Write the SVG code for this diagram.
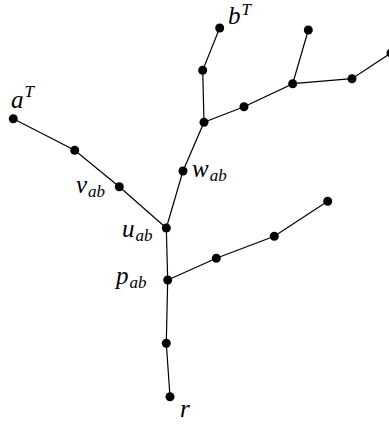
<svg xmlns="http://www.w3.org/2000/svg" width="389" height="426" viewBox="0 0 389 426">
<style>
.e{stroke:#000;stroke-width:1.2;fill:none}
.n{fill:#000}
.t{font-family:"Liberation Serif","DejaVu Serif",serif;font-style:italic;font-size:25px;fill:#000}
.s{font-size:17px}
</style>
<rect width="389" height="426" fill="#fff"/>
<g id="edges">
<polyline class="e" points="13.3,118.7 74.7,150.3 119.3,186.7 166.3,228"/>
<polyline class="e" points="166.3,228 183,171 204,122.3 202.7,70.3 219.7,28"/>
<polyline class="e" points="204,122.3 244,106.7 292.7,83.7 308.3,30"/>
<polyline class="e" points="292.7,83.7 352,78.7 391,53"/>
<polyline class="e" points="166.3,228 167.7,280 166.3,343.3 170,396.7"/>
<polyline class="e" points="167.7,280 216.3,258.3 274.3,236.3 327.7,201.3"/>
</g>
<g id="aT"><circle class="n" cx="13.3" cy="118.7" r="4.5"/><text class="t" x="11" y="108">a<tspan class="s" dx="1" dy="-11">T</tspan></text></g>
<g id="a1"><circle class="n" cx="74.7" cy="150.3" r="4.5"/></g>
<g id="vab"><circle class="n" cx="119.3" cy="186.7" r="4.5"/><text class="t" x="76" y="193">v<tspan class="s" dx="1" dy="4">ab</tspan></text></g>
<g id="uab"><circle class="n" cx="166.3" cy="228" r="4.5"/><text class="t" x="122" y="237">u<tspan class="s" dx="1" dy="4">ab</tspan></text></g>
<g id="wab"><circle class="n" cx="183" cy="171" r="4.5"/><text class="t" x="192" y="177">w<tspan class="s" dx="1" dy="4">ab</tspan></text></g>
<g id="b0"><circle class="n" cx="204" cy="122.3" r="4.5"/></g>
<g id="b1"><circle class="n" cx="202.7" cy="70.3" r="4.5"/></g>
<g id="bT"><circle class="n" cx="219.7" cy="28" r="4.5"/><text class="t" x="228" y="24">b<tspan class="s" dx="1" dy="-9">T</tspan></text></g>
<g id="c1"><circle class="n" cx="244" cy="106.7" r="4.5"/></g>
<g id="c2"><circle class="n" cx="292.7" cy="83.7" r="4.5"/></g>
<g id="c3"><circle class="n" cx="308.3" cy="30" r="4.5"/></g>
<g id="c4"><circle class="n" cx="352" cy="78.7" r="4.5"/></g>
<g id="c5"><circle class="n" cx="391" cy="53" r="4.5"/></g>
<g id="pab"><circle class="n" cx="167.7" cy="280" r="4.5"/><text class="t" x="116" y="284">p<tspan class="s" dx="1" dy="4">ab</tspan></text></g>
<g id="r1"><circle class="n" cx="166.3" cy="343.3" r="4.5"/></g>
<g id="r"><circle class="n" cx="170" cy="396.7" r="4.5"/><text class="t" x="180" y="417">r</text></g>
<g id="d1"><circle class="n" cx="216.3" cy="258.3" r="4.5"/></g>
<g id="d2"><circle class="n" cx="274.3" cy="236.3" r="4.5"/></g>
<g id="d3"><circle class="n" cx="327.7" cy="201.3" r="4.5"/></g>
</svg>
